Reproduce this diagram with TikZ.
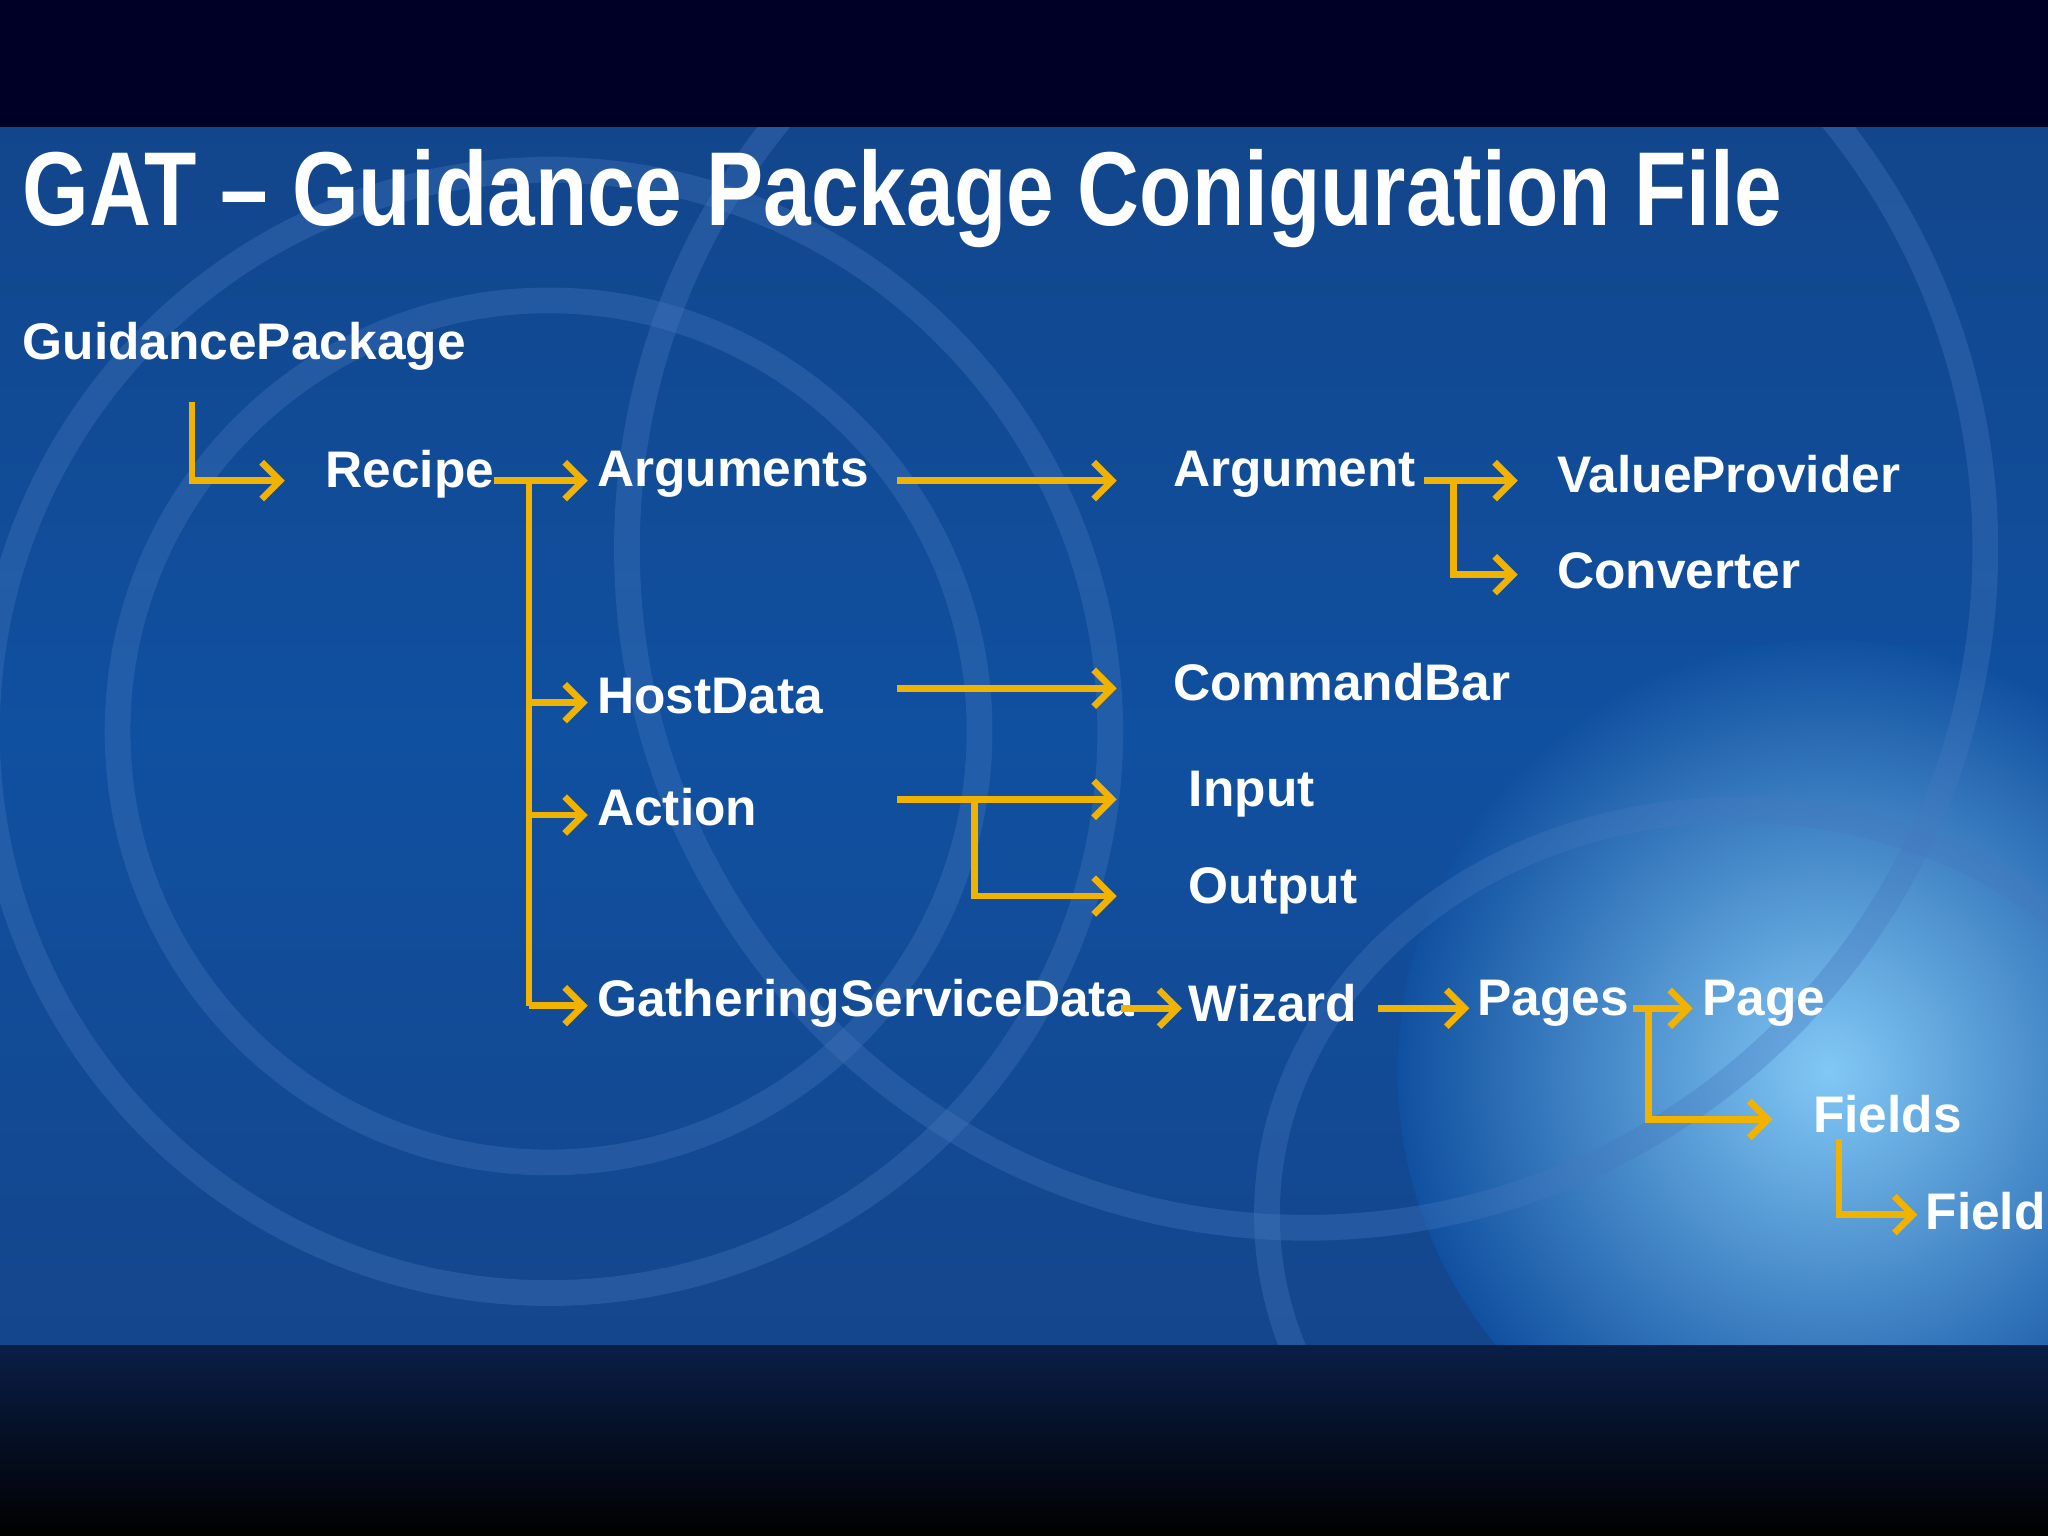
\documentclass[tikz,border=0pt]{standalone}
\usepackage{fontspec}
\setmainfont{Liberation Sans}
\usetikzlibrary{arrows.meta}
\definecolor{arr}{HTML}{F2B300}
\definecolor{bgtop}{RGB}{18,70,140}
\definecolor{bgmid}{RGB}{16,80,160}
\definecolor{bgbot}{RGB}{20,70,140}
\begin{document}
\begin{tikzpicture}[x=0.025cm,y=-0.025cm,
  lbl/.style={anchor=west,text=white,font=\bfseries\fontsize{28}{32}\selectfont,inner sep=0pt},
  con/.style={draw=arr,line width=3.6pt,-{Straight Barb[length=10pt,width=20pt,line width=3.6pt]}},
  seg/.style={draw=arr,line width=3.6pt}]
\useasboundingbox (0,0) rectangle (1568,1176);
% background
\fill[black!85!blue] (0,0) rectangle (1568,1176);
\begin{scope}
\clip (0,98) rectangle (1568,1030);
\shade[top color=bgtop,bottom color=bgbot,middle color=bgmid] (0,98) rectangle (1568,1030);
\shade[inner color={rgb,255:red,130;green,200;blue,245},outer color=bgmid] (1400,820) circle (330);
\begin{scope}[draw={rgb,255:red,70;green,120;blue,190},opacity=0.35,line width=14pt]
\draw (420,560) circle (430);
\draw (420,560) circle (330);
\draw (1330,930) ellipse (360 and 310);
\draw (1000,420) circle (520);
\end{scope}
\end{scope}
\shade[top color={rgb,255:red,10;green,30;blue,70},bottom color=black] (0,1030) rectangle (1568,1176);
\node[anchor=west,text=white,inner sep=0pt] (title) at (17,152)
  {\scalebox{1.06}[1.3]{\bfseries\fontsize{44}{50}\selectfont GAT -- Guidance Package Coniguration File}};
% nodes
\node[lbl] (gp) at (17,265) {GuidancePackage};
\node[lbl] (recipe) at (249,363) {Recipe};
\node[lbl] (args) at (457,363) {Arguments};
\node[lbl] (arg) at (898,363) {Argument};
\node[lbl] (vp) at (1192,363) {ValueProvider};
\node[lbl] (conv) at (1192,437) {Converter};
\node[lbl] (host) at (457,533) {HostData};
\node[lbl] (cb) at (898,522) {CommandBar};
\node[lbl] (act) at (457,618) {Action};
\node[lbl] (inp) at (910,608) {Input};
\node[lbl] (outp) at (910,682) {Output};
\node[lbl] (gsd) at (457,768) {GatheringServiceData};
\node[lbl] (wiz) at (910,768) {Wizard};
\node[lbl] (pages) at (1131,768) {Pages};
\node[lbl] (page) at (1303,768) {Page};
\node[lbl] (fields) at (1388,853) {Fields};
\node[lbl] (field) at (1474,927) {Field};
% coordinates
\coordinate (a0) at (147,308); \coordinate (a1) at (218,368);
\coordinate (r0) at (378,368); \coordinate (r1) at (450,368);
\coordinate (h1) at (450,538); \coordinate (c1) at (450,624); \coordinate (g1) at (450,770);
\coordinate (ar0) at (687,368); \coordinate (ar1) at (855,368);
\coordinate (v0) at (1090,368); \coordinate (v1) at (1162,368); \coordinate (cv1) at (1162,440);
\coordinate (hd0) at (687,527); \coordinate (hd1) at (855,527);
\coordinate (ac0) at (687,612); \coordinate (ac1) at (855,612); \coordinate (ac2) at (855,686);
\coordinate (gw0) at (858,772); \coordinate (gw1) at (905,772);
\coordinate (wp0) at (1055,772); \coordinate (wp1) at (1125,772);
\coordinate (pp0) at (1250,772); \coordinate (pp1) at (1296,772); \coordinate (pf1) at (1357,857);
\coordinate (f0) at (1408,872); \coordinate (f1) at (1468,930);
% connectors
\draw[con] (a0) |- (a1);
\draw[con] (r0) -- (r1);
\draw[seg] (405,368) -- (405,770);
\draw[con] (405,538) -- (h1);
\draw[con] (405,624) -- (c1);
\draw[con] (405,770) -- (g1);
\draw[con] (ar0) -- (ar1);
\draw[con] (v0) -- (v1);
\draw[con] (1113,368) |- (cv1);
\draw[con] (hd0) -- (hd1);
\draw[con] (ac0) -- (ac1);
\draw[con] (746,612) |- (ac2);
\draw[con] (gw0) -- (gw1);
\draw[con] (wp0) -- (wp1);
\draw[con] (pp0) -- (pp1);
\draw[con] (1262,772) |- (pf1);
\draw[con] (f0) |- (f1);
\end{tikzpicture}
\end{document}
